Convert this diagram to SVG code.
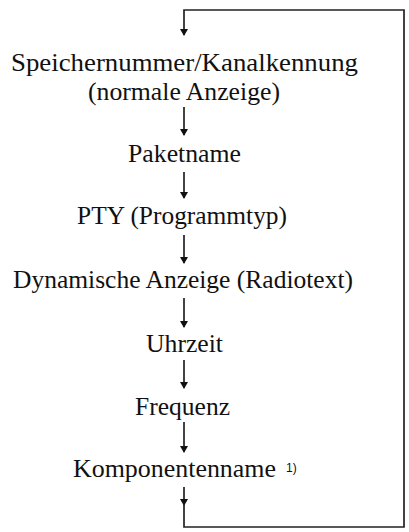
<svg xmlns="http://www.w3.org/2000/svg" width="409" height="532" viewBox="0 0 409 532">
<style>
.t{font-family:"Liberation Serif","Times New Roman",serif;font-size:25.5px;fill:#111;}
.s{font-family:"Liberation Sans",Arial,sans-serif;font-size:12px;fill:#111;}
.c{fill:none;stroke:#222;stroke-width:1.7;}
</style>
<defs>
<marker id="ah" viewBox="0 -4 7 8" refX="6" refY="0" markerWidth="7" markerHeight="8" markerUnits="userSpaceOnUse" orient="auto">
<path d="M0,-4 L7,0 L0,4 z" fill="#111"/>
</marker>
</defs>
<g id="connectors">
<line class="c" x1="184" y1="107" x2="184" y2="135" marker-end="url(#ah)"/>
<line class="c" x1="184" y1="172" x2="184" y2="198" marker-end="url(#ah)"/>
<line class="c" x1="184" y1="235" x2="184" y2="263" marker-end="url(#ah)"/>
<line class="c" x1="184" y1="298" x2="184" y2="327" marker-end="url(#ah)"/>
<line class="c" x1="184" y1="360" x2="184" y2="388" marker-end="url(#ah)"/>
<line class="c" x1="184" y1="422" x2="184" y2="452" marker-end="url(#ah)"/>
<line class="c" x1="184" y1="487" x2="184" y2="505" marker-end="url(#ah)"/>
<polyline class="c" points="184,504 184,527 404,527 404,10 184,10 184,35" marker-end="url(#ah)"/>
</g>
<g id="n1"><text class="t" x="11" y="71" textLength="347" lengthAdjust="spacingAndGlyphs">Speichernummer/Kanalkennung</text>
<text class="t" x="88" y="100" textLength="192" lengthAdjust="spacingAndGlyphs">(normale Anzeige)</text></g>
<g id="n2"><text class="t" x="128" y="162" textLength="113" lengthAdjust="spacingAndGlyphs">Paketname</text></g>
<g id="n3"><text class="t" x="77" y="224" textLength="210" lengthAdjust="spacingAndGlyphs">PTY (Programmtyp)</text></g>
<g id="n4"><text class="t" x="13" y="288" textLength="340" lengthAdjust="spacingAndGlyphs">Dynamische Anzeige (Radiotext)</text></g>
<g id="n5"><text class="t" x="146" y="352" textLength="77" lengthAdjust="spacingAndGlyphs">Uhrzeit</text></g>
<g id="n6"><text class="t" x="135" y="415" textLength="95" lengthAdjust="spacingAndGlyphs">Frequenz</text></g>
<g id="n7"><text class="t" x="73" y="477" textLength="203" lengthAdjust="spacingAndGlyphs">Komponentenname</text>
<text class="s" x="286" y="472">1)</text></g>
</svg>
